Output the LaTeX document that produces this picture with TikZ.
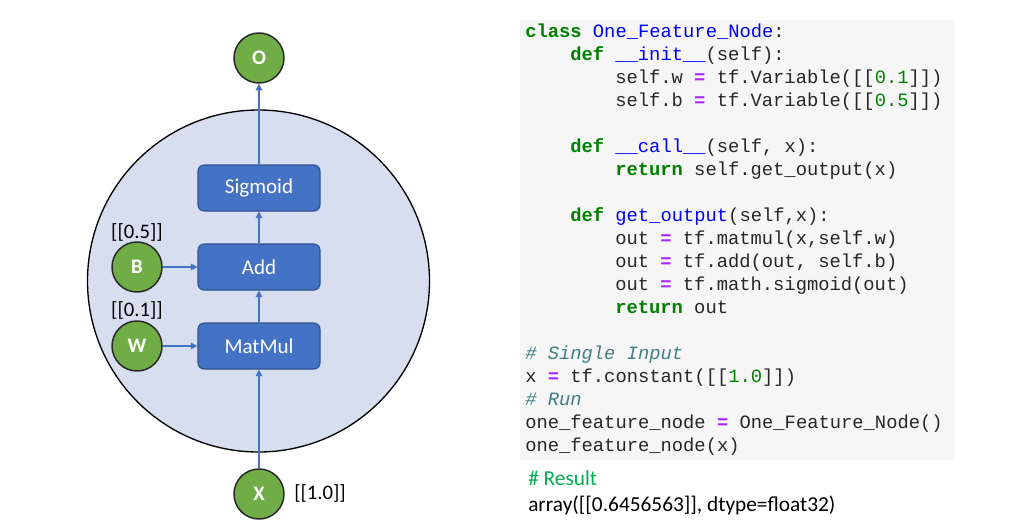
\documentclass[tikz,border=0pt]{standalone}
\usepackage{fontspec}
\setmainfont{Carlito}
\newfontfamily\codefont{Liberation Mono}
\usetikzlibrary{arrows.meta}
\definecolor{ringfill}{HTML}{D6DEEF}
\definecolor{opfill}{HTML}{4472C4}
\definecolor{opline}{HTML}{2F528F}
\definecolor{varfill}{HTML}{70AD47}
\definecolor{arrowc}{HTML}{4472C4}
\definecolor{codebg}{HTML}{F6F6F6}
\definecolor{kwc}{HTML}{008000}
\definecolor{fnc}{HTML}{0000FF}
\definecolor{opc}{HTML}{AA22FF}
\definecolor{numc}{HTML}{008000}
\definecolor{cmc}{HTML}{408080}
\definecolor{codetxt}{HTML}{262626}
\definecolor{resc}{HTML}{00B050}
\newcommand{\kw}[1]{\textcolor{kwc}{\bfseries #1}}
\newcommand{\fn}[1]{\textcolor{fnc}{#1}}
\newcommand{\opq}{\textcolor{opc}{\bfseries =}}
\newcommand{\nm}[1]{\textcolor{numc}{#1}}
\newcommand{\cm}[1]{\textcolor{cmc}{\itshape #1}}
\begin{document}
\begin{tikzpicture}[x=0.75pt,y=-0.75pt,
  opbox/.style={draw=opline,fill=opfill,line width=0.8pt,rounded corners=4.5pt,
    minimum width=91.5pt,minimum height=34.5pt,text=white,inner sep=0pt,
    font=\fontsize{15.8pt}{18pt}\selectfont},
  varnode/.style={circle,draw=black!85,fill=varfill,line width=1.1pt,
    minimum size=37.5pt,inner sep=0pt,text=white,
    font=\fontsize{15.5pt}{18pt}\selectfont\bfseries},
  vallabel/.style={inner sep=0pt,font=\fontsize{15.5pt}{18pt}\selectfont},
  flow/.style={draw=arrowc,line width=0.9pt,-{Triangle[length=5pt,width=5pt]}},
  codeline/.style={anchor=base west,inner sep=0pt,text=codetxt,
    font=\codefont\fontsize{14.1pt}{17pt}\selectfont},
  restext/.style={anchor=base west,inner sep=0pt,font=\fontsize{16pt}{18pt}\selectfont}
]
\useasboundingbox[fill=white] (0,0) rectangle (1024,522);
% ring
\node[circle,draw=black,fill=ringfill,line width=1pt,minimum size=256.5pt,inner sep=0pt] (ring) at (258.5,281) {};
% operations
\node[opbox] (sig) at (259,188) {Sigmoid};
\node[opbox] (add) at (259,267) {Add};
\node[opbox] (mm) at (259,346) {MatMul};
% variables
\node[varnode] (o) at (259,58) {O};
\node[varnode] (b) at (137,267) {B};
\node[varnode] (w) at (137,346) {W};
\node[varnode] (x) at (259,494) {X};
% value labels
\node[vallabel] (bval) at (137,232) {[[0.5]]};
\node[vallabel] (wval) at (137,310) {[[0.1]]};
\node[vallabel,anchor=west] (xval) at (294,493) {[[1.0]]};
% connectors
\draw[flow] (x) -- (mm);
\draw[flow] (mm) -- (add);
\draw[flow] (add) -- (sig);
\draw[flow] (sig) -- (o);
\draw[flow] (b) -- (add);
\draw[flow] (w) -- (mm);
% code panel
\fill[codebg] (520,20) rectangle (955,460);
\node[codeline] (c0) at (525,37) {\kw{class} \fn{One\_Feature\_Node}:};
\node[codeline] (c1) at (570,60) {\kw{def} \fn{\_\_init\_\_}(self):};
\node[codeline] (c2) at (615,83) {self.w \opq{} tf.Variable([[\nm{0.1}]])};
\node[codeline] (c3) at (615,106) {self.b \opq{} tf.Variable([[\nm{0.5}]])};
\node[codeline] (c5) at (570,152) {\kw{def} \fn{\_\_call\_\_}(self, x):};
\node[codeline] (c6) at (615,175) {\kw{return} self.get\_output(x)};
\node[codeline] (c8) at (570,221) {\kw{def} \fn{get\_output}(self,x):};
\node[codeline] (c9) at (615,244) {out \opq{} tf.matmul(x,self.w)};
\node[codeline] (c10) at (615,267) {out \opq{} tf.add(out, self.b)};
\node[codeline] (c11) at (615,290) {out \opq{} tf.math.sigmoid(out)};
\node[codeline] (c12) at (615,313) {\kw{return} out};
\node[codeline] (c14) at (525,359) {\cm{\# Single Input}};
\node[codeline] (c15) at (525,382) {x \opq{} tf.constant([[\nm{1.0}]])};
\node[codeline] (c16) at (525,405) {\cm{\# Run}};
\node[codeline] (c17) at (525,428) {one\_feature\_node \opq{} One\_Feature\_Node()};
\node[codeline] (c18) at (525,451) {one\_feature\_node(x)};
% result
\node[restext,text=resc] (r0) at (528,485) {\# Result};
\node[restext] (r1) at (528,511) {array([[0.6456563]], dtype=float32)};
\end{tikzpicture}
\end{document}
